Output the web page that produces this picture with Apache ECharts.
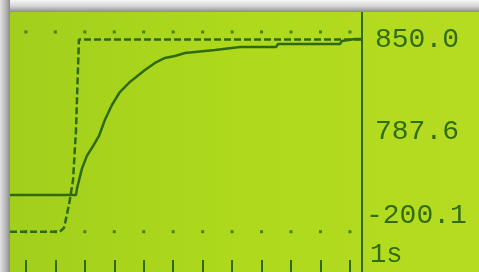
<!DOCTYPE html>
<html>
<head>
<meta charset="utf-8">
<script src="https://cdn.jsdelivr.net/npm/echarts@6/dist/echarts.min.js"></script>
<style>
html, body { margin: 0; padding: 0; background: #ffffff; }
#main { width: 479px; height: 272px; }
</style>
</head>
<body>
<div id="main"></div>
<script>
// process value trace (time in s, value in display units)
var pvTime  = [-0.54, 1.70, 1.73, 1.90, 2.07, 2.28, 2.48, 2.68, 2.92, 3.19, 3.53, 4.04, 4.38, 4.72, 5.06, 5.40, 5.74, 6.42, 7.27, 8.49, 8.56, 10.66, 10.73, 11.17, 11.41];
var pvValue = [0, 0, 33, 143, 214, 268, 323, 410, 492, 563, 618, 683, 722, 749, 760, 776, 782, 793, 809, 809, 825, 825, 842, 852, 852];

// setpoint trace (dashed)
var spTime  = [-0.54, 1.15, 1.29, 1.39, 1.49, 1.60, 1.70, 1.80, 11.41];
var spValue = [-200, -200, -180, -109, -27, 82, 355, 850, 850];

// dotted reference rows and 1 s ticks
var tickSeconds = [0, 1, 2, 3, 4, 5, 6, 7, 8, 9, 10, 11];
var dotRows = [891, -200];

// readouts on the right panel
var readouts = ['850.0', '787.6', '-200.1'];
var timeBase = '1s';

var lcdDark = '#2f6a12';
var lcdText = '#326c10';

function pairs(xs, ys) {
    var out = [];
    for (var i = 0; i < xs.length; i++) out.push([xs[i], ys[i]]);
    return out;
}

var dots = [];
dotRows.forEach(function (v) {
    tickSeconds.forEach(function (t) { dots.push([t, v]); });
});

var readoutTop = [26, 118, 202];
var graphics = [
    {
        type: 'rect', z: 0, shape: { x: 10, y: 12, width: 469, height: 260 },
        style: { fill: new echarts.graphic.LinearGradient(0, 0, 1, 0, [
            { offset: 0, color: '#a2cf1c' },
            { offset: 0.5, color: '#aed91c' },
            { offset: 1, color: '#b6dc22' }
        ]) }
    },
    {
        type: 'rect', z: 1, shape: { x: 0, y: 0, width: 479, height: 12 },
        style: { fill: new echarts.graphic.LinearGradient(0, 0, 0, 1, [
            { offset: 0, color: '#f6f6f6' },
            { offset: 0.5, color: '#d6d6d6' },
            { offset: 1, color: '#8e8e8e' }
        ]) }
    },
    {
        type: 'rect', z: 1, shape: { x: 0, y: 0, width: 10, height: 272 },
        style: { fill: new echarts.graphic.LinearGradient(0, 0, 1, 0, [
            { offset: 0, color: '#e2e2e2' },
            { offset: 0.6, color: '#b4b4b4' },
            { offset: 1, color: '#8a8a8a' }
        ]) }
    }
];
readouts.forEach(function (s, i) {
    graphics.push({
        type: 'text', z: 10,
        left: s.charAt(0) === '-' ? 366 : 375, top: readoutTop[i],
        style: { text: s, fill: lcdText, font: '28px "Liberation Mono"' }
    });
});
graphics.push({
    type: 'text', z: 10, left: 370, top: 241,
    style: { text: timeBase, fill: lcdText, font: '27px "Liberation Mono"' }
});

var chart = echarts.init(document.getElementById('main'));
chart.setOption({
    animation: false,
    backgroundColor: '#ffffff',
    graphic: graphics,
    grid: { left: 10, right: 117, top: 12, bottom: 0 },
    xAxis: {
        type: 'value',
        min: -0.54,
        max: 11.41,
        axisLine: { show: false, onZero: false },
        axisTick: {
            show: true, inside: true, length: 12,
            customValues: tickSeconds,
            lineStyle: { color: lcdDark, width: 2 }
        },
        axisLabel: { show: false, customValues: tickSeconds },
        splitLine: { show: false }
    },
    yAxis: {
        type: 'value',
        position: 'right',
        min: -420,
        max: 1000,
        axisLine: { show: true, onZero: false, lineStyle: { color: lcdDark, width: 2 } },
        axisTick: { show: false },
        axisLabel: { show: false },
        splitLine: { show: false }
    },
    series: [
        {
            name: 'grid dots',
            type: 'scatter',
            symbol: 'rect',
            symbolSize: 3,
            itemStyle: { color: lcdDark },
            data: dots,
            z: 3
        },
        {
            name: 'setpoint',
            type: 'line',
            showSymbol: false,
            lineStyle: { color: lcdDark, width: 2.5, type: [7, 3] },
            data: pairs(spTime, spValue),
            z: 4
        },
        {
            name: 'process value',
            type: 'line',
            showSymbol: false,
            lineStyle: { color: lcdDark, width: 2.5 },
            data: pairs(pvTime, pvValue),
            z: 5
        }
    ]
});
</script>
</body>
</html>
